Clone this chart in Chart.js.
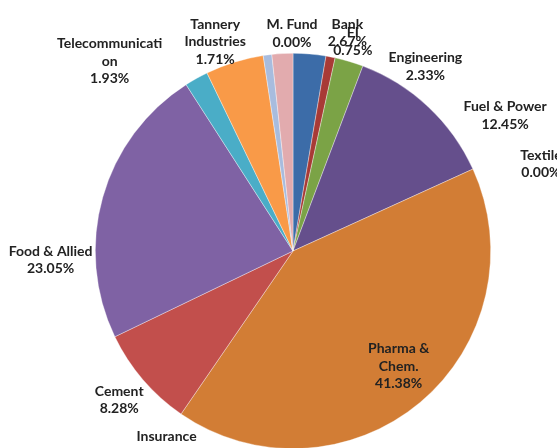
<!DOCTYPE html>
<html>
<head>
<meta charset="utf-8">
<script src="https://cdn.jsdelivr.net/npm/chart.js@4"></script>
<style>
  html, body { margin: 0; padding: 0; background: #fff; overflow: hidden; }
  #wrap { position: relative; width: 557px; height: 448px; overflow: hidden; }
  #wrap canvas { position: absolute; left: 0; top: 0; }
</style>
</head>
<body>
<div id="wrap"><canvas id="chart" width="557" height="500"></canvas></div>
<script>
// sector shares, clockwise from 12 o'clock
const sectors = ["Bank", "FI", "Engineering", "Fuel & Power", "Textile", "Pharma & Chem.",
  "Insurance", "Cement", "Food & Allied", "Telecommunication", "", "", "Tannery Industries", "M. Fund"]
const shares = [2.67, 0.75, 2.33, 12.45, 0, 41.38, 0, 8.28, 23.05, 1.93, 4.75, 0.70, 1.71, 0]
// label text as printed on the chart (empty = no label)
const labelLines = [["Bank"], ["FI"], ["Engineering"], ["Fuel & Power"], ["Textile"], ["Pharma &", "Chem."],
  ["Insurance"], ["Cement"], ["Food & Allied"], ["Telecommunicati", "on"], [], [], ["Tannery", "Industries"], ["M. Fund"]]
const colors = ["#3c6ca8", "#a83a36", "#7ba346", "#654f8c", "#4aadc7", "#d27d35",
  "#9bbb59", "#c24f4c", "#7f62a4", "#4aadc7", "#f99a48", "#a8bcde", "#e2abae", "#c0504d"]

// nudges to mimic where the labels were pushed to avoid each other
const nudge = [[36, 1], [18, 6], [70, 26], [62, 25], [48, 4], [4, -6],
  [-2, 13], [-7, 6], [-31, 69], [-76, 2], [0, 0], [0, 0], [-66, 10], [-1, 2]]

const sliceLabels = {
  id: "sliceLabels",
  afterDatasetsDraw(chart) {
    const ctx = chart.ctx
    const arcs = chart.getDatasetMeta(0).data
    ctx.save()
    ctx.font = "bold 14px Lato, 'Open Sans', sans-serif"
    ctx.fillStyle = "#222"
    ctx.textAlign = "center"
    ctx.textBaseline = "middle"
    arcs.forEach((arc, i) => {
      const lines = labelLines[i]
      if (!lines.length) return
      const { x, y, startAngle, endAngle, outerRadius } = arc.getProps(["x", "y", "startAngle", "endAngle", "outerRadius"], true)
      const mid = (startAngle + endAngle) / 2
      const inside = shares[i] > 30
      const rr = inside ? outerRadius * 0.8 : outerRadius + 22
      const cx = x + Math.cos(mid) * rr + nudge[i][0]
      const cy = y + Math.sin(mid) * rr + nudge[i][1]
      const all = lines.concat([shares[i].toFixed(2) + "%"])
      const lh = 17.5
      all.forEach((t, k) => {
        ctx.fillText(t, cx, cy + (k - (all.length - 1) / 2) * lh)
      })
    })
    ctx.restore()
  }
}

new Chart(document.getElementById("chart"), {
  type: "pie",
  data: {
    labels: sectors,
    datasets: [{
      data: shares,
      backgroundColor: colors,
      borderColor: "rgba(255,255,255,0.6)",
      borderWidth: 0.6
    }]
  },
  options: {
    responsive: false,
    animation: false,
    layout: { padding: { left: 95, right: 66, top: 53, bottom: 51 } },
    plugins: { legend: { display: false }, tooltip: { enabled: false } }
  },
  plugins: [sliceLabels]
})
</script>
</body>
</html>
